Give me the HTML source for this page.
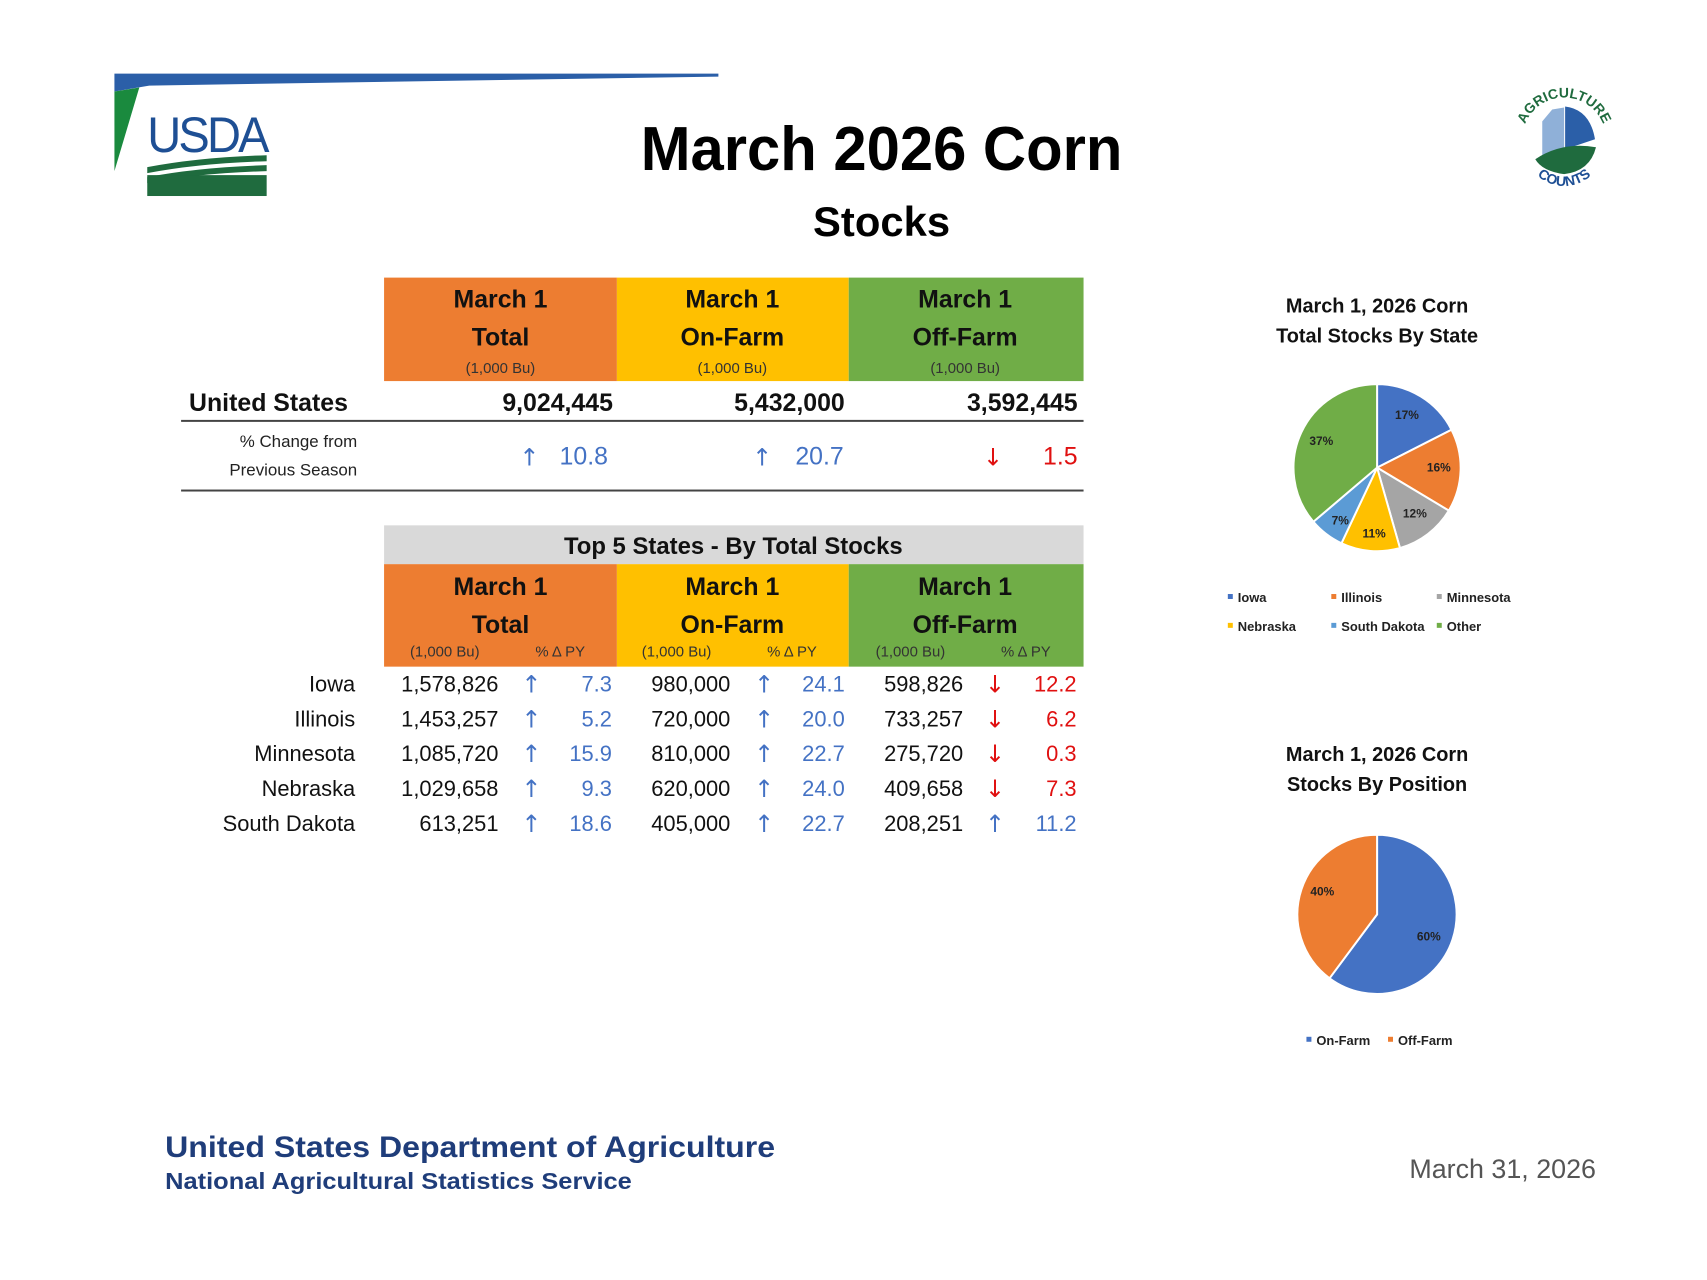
<!DOCTYPE html>
<html><head><meta charset="utf-8"><style>
html,body{margin:0;padding:0;background:#fff}
svg{display:block}
text{font-family:"Liberation Sans",sans-serif}
.h{font-weight:bold;font-size:25px;fill:#111;text-anchor:middle}
.s{font-size:15px;fill:#333;text-anchor:middle}
.r{font-size:22px;fill:#111;text-anchor:end}
.b{font-size:22px;fill:#4472C4;text-anchor:end}
.rd{font-size:22px;fill:#E01010;text-anchor:end}
.au{font-family:"DejaVu Sans",sans-serif;font-size:24px;fill:#4472C4;text-anchor:middle}
.ad{font-family:"DejaVu Sans",sans-serif;font-size:24px;fill:#E01010;text-anchor:middle}
.pl{font-size:12px;font-weight:bold;fill:#222;text-anchor:middle}
.lg{font-size:13px;font-weight:bold;fill:#222}
</style></head><body>
<svg width="1707" height="1280" viewBox="0 0 1707 1280" xmlns="http://www.w3.org/2000/svg">
<defs>
<path id="arcTop" d="M1530 140 A42 42 0 0 1 1614 140"/>
<path id="arcBot" d="M1538 168 A40 40 0 0 0 1606 168"/>
</defs>
<g transform="scale(0.995)">
<!-- top bar -->
<path d="M115 74 L722 74 L722 77 L150 86 L115 92 Z" fill="#2b5fa8"/>
<path d="M115 92 L140 88 L115 172 Z" fill="#1a8a3e"/>
<!-- USDA logo -->
<text x="148" y="153" font-family="Liberation Serif,serif" font-size="50" fill="#1e4f94" letter-spacing="-3" textLength="120" lengthAdjust="spacingAndGlyphs">USDA</text>
<path d="M148 168 Q200 158 268 156 L268 162 Q200 164 148 174 Z" fill="#1f6b3e"/>
<path d="M148 178 Q200 168 268 166 L268 172 Q200 174 148 184 Z" fill="#1f6b3e"/>
<rect x="148" y="176" width="120" height="21" fill="#1f6b3e"/>
<!-- title -->
<text x="886" y="171" font-size="62" font-weight="bold" text-anchor="middle" fill="#000" textLength="484" lengthAdjust="spacingAndGlyphs">March 2026 Corn</text>
<text x="886" y="237" font-size="42" font-weight="bold" text-anchor="middle" fill="#000">Stocks</text>
<!-- ag counts logo -->
<path d="M1550 122 L1550 160 L1572 160 L1572 108 L1560 110 Z" fill="#8fb0d8"/>
<path d="M1573 107 Q1598 110 1603 140 L1573 150 Z" fill="#2b5fa8"/>
<path d="M1543 160 Q1570 142 1604 148 Q1598 172 1572 175 Q1550 172 1543 160 Z" fill="#1f6b3e"/>
<text font-family="Liberation Serif,serif" font-size="14" font-weight="bold" fill="#1f6b3e" text-anchor="middle"><textPath href="#arcTop" startOffset="50%">AGRICULTURE</textPath></text>
<text font-family="Liberation Serif,serif" font-size="14" font-weight="bold" fill="#1e4f94" text-anchor="middle"><textPath href="#arcBot" startOffset="50%" dy="12">COUNTS</textPath></text>

<!-- Table 1 header -->
<rect x="386" y="279" width="234" height="104" fill="#ED7D31"/>
<rect x="620" y="279" width="233" height="104" fill="#FFC000"/>
<rect x="853" y="279" width="236" height="104" fill="#70AD47"/>
<text class="h" x="503" y="309">March 1</text><text class="h" x="503" y="347">Total</text><text class="s" x="503" y="375">(1,000 Bu)</text>
<text class="h" x="736" y="309">March 1</text><text class="h" x="736" y="347">On-Farm</text><text class="s" x="736" y="375">(1,000 Bu)</text>
<text class="h" x="970" y="309">March 1</text><text class="h" x="970" y="347">Off-Farm</text><text class="s" x="970" y="375">(1,000 Bu)</text>
<text x="190" y="413" font-size="25" font-weight="bold" fill="#111">United States</text>
<text x="616" y="413" font-size="25" font-weight="bold" fill="#111" text-anchor="end">9,024,445</text>
<text x="849" y="413" font-size="25" font-weight="bold" fill="#111" text-anchor="end">5,432,000</text>
<text x="1083" y="413" font-size="25" font-weight="bold" fill="#111" text-anchor="end">3,592,445</text>
<rect x="182" y="422" width="907" height="2" fill="#444"/>
<text x="359" y="449" font-size="17" fill="#222" text-anchor="end">% Change from</text>
<text x="359" y="478" font-size="17" fill="#222" text-anchor="end">Previous Season</text>
<text class="au" x="532" y="468">↑</text><text class="b" x="611" y="467" style="font-size:25px">10.8</text>
<text class="au" x="766" y="468">↑</text><text class="b" x="848" y="467" style="font-size:25px">20.7</text>
<text class="ad" x="998" y="468">↓</text><text class="rd" x="1083" y="467" style="font-size:25px">1.5</text>
<rect x="182" y="492" width="907" height="2" fill="#444"/>

<!-- Table 2 -->
<rect x="386" y="528" width="703" height="39" fill="#D9D9D9"/>
<text x="737" y="557" font-size="24" font-weight="bold" fill="#111" text-anchor="middle">Top 5 States - By Total Stocks</text>
<rect x="386" y="567" width="234" height="103" fill="#ED7D31"/>
<rect x="620" y="567" width="233" height="103" fill="#FFC000"/>
<rect x="853" y="567" width="236" height="103" fill="#70AD47"/>
<text class="h" x="503" y="598">March 1</text><text class="h" x="503" y="636">Total</text>
<text class="h" x="736" y="598">March 1</text><text class="h" x="736" y="636">On-Farm</text>
<text class="h" x="970" y="598">March 1</text><text class="h" x="970" y="636">Off-Farm</text>
<text class="s" x="447" y="660">(1,000 Bu)</text><text class="s" x="563" y="660">% Δ PY</text>
<text class="s" x="680" y="660">(1,000 Bu)</text><text class="s" x="796" y="660">% Δ PY</text>
<text class="s" x="915" y="660">(1,000 Bu)</text><text class="s" x="1031" y="660">% Δ PY</text>

<g>
<text class="r" x="357" y="695">Iowa</text><text class="r" x="501" y="695">1,578,826</text><text class="au" x="534" y="696">↑</text><text class="b" x="615" y="695">7.3</text>
<text class="r" x="734" y="695">980,000</text><text class="au" x="768" y="696">↑</text><text class="b" x="849" y="695">24.1</text>
<text class="r" x="968" y="695">598,826</text><text class="ad" x="1000" y="696">↓</text><text class="rd" x="1082" y="695">12.2</text>

<text class="r" x="357" y="730">Illinois</text><text class="r" x="501" y="730">1,453,257</text><text class="au" x="534" y="731">↑</text><text class="b" x="615" y="730">5.2</text>
<text class="r" x="734" y="730">720,000</text><text class="au" x="768" y="731">↑</text><text class="b" x="849" y="730">20.0</text>
<text class="r" x="968" y="730">733,257</text><text class="ad" x="1000" y="731">↓</text><text class="rd" x="1082" y="730">6.2</text>

<text class="r" x="357" y="765">Minnesota</text><text class="r" x="501" y="765">1,085,720</text><text class="au" x="534" y="766">↑</text><text class="b" x="615" y="765">15.9</text>
<text class="r" x="734" y="765">810,000</text><text class="au" x="768" y="766">↑</text><text class="b" x="849" y="765">22.7</text>
<text class="r" x="968" y="765">275,720</text><text class="ad" x="1000" y="766">↓</text><text class="rd" x="1082" y="765">0.3</text>

<text class="r" x="357" y="800">Nebraska</text><text class="r" x="501" y="800">1,029,658</text><text class="au" x="534" y="801">↑</text><text class="b" x="615" y="800">9.3</text>
<text class="r" x="734" y="800">620,000</text><text class="au" x="768" y="801">↑</text><text class="b" x="849" y="800">24.0</text>
<text class="r" x="968" y="800">409,658</text><text class="ad" x="1000" y="801">↓</text><text class="rd" x="1082" y="800">7.3</text>

<text class="r" x="357" y="835">South Dakota</text><text class="r" x="501" y="835">613,251</text><text class="au" x="534" y="836">↑</text><text class="b" x="615" y="835">18.6</text>
<text class="r" x="734" y="835">405,000</text><text class="au" x="768" y="836">↑</text><text class="b" x="849" y="835">22.7</text>
<text class="r" x="968" y="835">208,251</text><text class="au" x="1000" y="836">↑</text><text class="b" x="1082" y="835">11.2</text>
</g>

<!-- Pie 1 -->
<text x="1384" y="314" font-size="20" font-weight="bold" fill="#111" text-anchor="middle">March 1, 2026 Corn</text>
<text x="1384" y="344" font-size="20" font-weight="bold" fill="#111" text-anchor="middle">Total Stocks By State</text>
<g stroke="#fff" stroke-width="2">
<path d="M1384 470 L1384 386 A84 84 0 0 1 1458.8 431.9 Z" fill="#4472C4"/>
<path d="M1384 470 L1458.8 431.9 A84 84 0 0 1 1456.1 513.2 Z" fill="#ED7D31"/>
<path d="M1384 470 L1456.1 513.2 A84 84 0 0 1 1407 550.8 Z" fill="#A5A5A5"/>
<path d="M1384 470 L1407 550.8 A84 84 0 0 1 1348.2 546 Z" fill="#FFC000"/>
<path d="M1384 470 L1348.2 546 A84 84 0 0 1 1320 524.4 Z" fill="#5B9BD5"/>
<path d="M1384 470 L1320 524.4 A84 84 0 0 1 1384 386 Z" fill="#70AD47"/>
</g>
<text class="pl" x="1414" y="421">17%</text><text class="pl" x="1446" y="474">16%</text>
<text class="pl" x="1422" y="520">12%</text><text class="pl" x="1381" y="540">11%</text>
<text class="pl" x="1347" y="527">7%</text><text class="pl" x="1328" y="447">37%</text>
<rect x="1234" y="597" width="5" height="5" fill="#4472C4"/><text class="lg" x="1244" y="605">Iowa</text>
<rect x="1338" y="597" width="5" height="5" fill="#ED7D31"/><text class="lg" x="1348" y="605">Illinois</text>
<rect x="1444" y="597" width="5" height="5" fill="#A5A5A5"/><text class="lg" x="1454" y="605">Minnesota</text>
<rect x="1234" y="626" width="5" height="5" fill="#FFC000"/><text class="lg" x="1244" y="634">Nebraska</text>
<rect x="1338" y="626" width="5" height="5" fill="#5B9BD5"/><text class="lg" x="1348" y="634">South Dakota</text>
<rect x="1444" y="626" width="5" height="5" fill="#70AD47"/><text class="lg" x="1454" y="634">Other</text>

<!-- Pie 2 -->
<text x="1384" y="765" font-size="20" font-weight="bold" fill="#111" text-anchor="middle">March 1, 2026 Corn</text>
<text x="1384" y="795" font-size="20" font-weight="bold" fill="#111" text-anchor="middle">Stocks By Position</text>
<g stroke="#fff" stroke-width="2">
<path d="M1384 919 L1384 839 A80 80 0 1 1 1336.2 983.2 Z" fill="#4472C4"/>
<path d="M1384 919 L1336.2 983.2 A80 80 0 0 1 1384 839 Z" fill="#ED7D31"/>
</g>
<text class="pl" x="1329" y="900">40%</text><text class="pl" x="1436" y="945">60%</text>
<rect x="1313" y="1042" width="5" height="5" fill="#4472C4"/><text class="lg" x="1323" y="1050">On-Farm</text>
<rect x="1395" y="1042" width="5" height="5" fill="#ED7D31"/><text class="lg" x="1405" y="1050">Off-Farm</text>

<!-- footer -->
<text x="166" y="1163" font-size="30" font-weight="bold" fill="#1f3d7a" textLength="613" lengthAdjust="spacingAndGlyphs">United States Department of Agriculture</text>
<text x="166" y="1195" font-size="23" font-weight="bold" fill="#1f3d7a" textLength="469" lengthAdjust="spacingAndGlyphs">National Agricultural Statistics Service</text>
<text x="1604" y="1184" font-size="27" fill="#555" text-anchor="end">March 31, 2026</text>
</g>
</svg>
</body></html>
